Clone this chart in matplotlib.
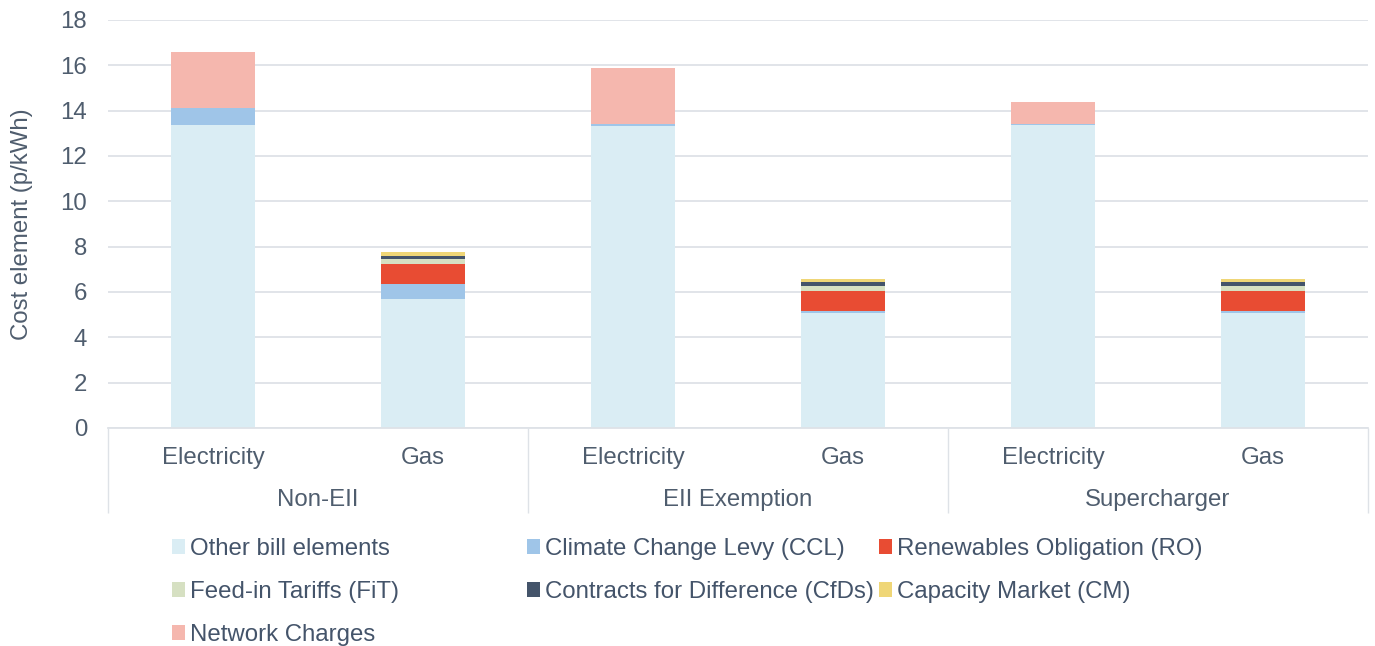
import numpy as np
import matplotlib.pyplot as plt
from matplotlib.patches import Patch

plt.rcParams['font.family'] = ['Liberation Sans', 'DejaVu Sans']

# bill components, p/kWh
fuels = ['Electricity', 'Gas', 'Electricity', 'Gas', 'Electricity', 'Gas']
groups = ['Non-EII', 'EII Exemption', 'Supercharger']

other_bill = [13.35, 5.69, 13.34, 5.09, 13.35, 5.09]
ccl = [0.75, 0.65, 0.07, 0.07, 0.06, 0.07]
ro = [0.0, 0.88, 0.0, 0.87, 0.0, 0.87]
fit = [0.0, 0.25, 0.0, 0.25, 0.0, 0.25]
cfd = [0.0, 0.13, 0.0, 0.15, 0.0, 0.15]
cm = [0.0, 0.16, 0.0, 0.14, 0.0, 0.14]
network = [2.49, 0.0, 2.46, 0.0, 0.97, 0.0]

series = [
    ('Other bill elements', other_bill, '#DAEDF4'),
    ('Climate Change Levy (CCL)', ccl, '#9FC5E8'),
    ('Renewables Obligation (RO)', ro, '#E84C33'),
    ('Feed-in Tariffs (FiT)', fit, '#D6E0C2'),
    ('Contracts for Difference (CfDs)', cfd, '#44546A'),
    ('Capacity Market (CM)', cm, '#EFD677'),
    ('Network Charges', network, '#F5B7AE'),
]

txt = '#4F5D6E'
fs = 17.3
line_col = '#DEE2E7'

fig = plt.figure(figsize=(13.75, 6.46), dpi=100)
ax = fig.add_axes([108 / 1375, 1 - 428 / 646, 1260 / 1375, 408 / 646])

x = np.arange(len(fuels))
bottom = np.zeros(len(fuels))
handles = []
for name, vals, col in series:
    vals = np.array(vals)
    ax.bar(x, vals, 0.4, bottom=bottom, color=col, label=name, zorder=2)
    bottom += vals
    handles.append(Patch(facecolor=col, label=name))

ax.set_xlim(-0.5, 5.5)
ax.set_ylim(0, 18)
ax.set_yticks(np.arange(0, 19, 2))
ax.yaxis.grid(True, color=line_col, lw=1.3, zorder=0)
for s in ['top', 'right', 'left']:
    ax.spines[s].set_visible(False)
ax.spines['bottom'].set_color(line_col)
ax.spines['bottom'].set_linewidth(1.3)
ax.tick_params(axis='y', length=0, labelsize=fs, labelcolor=txt, pad=15)
ax.set_ylabel('Cost element (p/kWh)', fontsize=fs, color=txt, labelpad=20)

ax.set_xticks(x, fuels)
ax.tick_params(axis='x', length=0, labelsize=fs, labelcolor=txt, pad=14)

# separators between groups
sep = ax.secondary_xaxis(0)
sep.set_xticks([-0.5, 1.5, 3.5, 5.5], ['', '', '', ''])
sep.tick_params(length=61, width=1, color=line_col)
sep.spines['bottom'].set_visible(False)

grp = ax.secondary_xaxis(0)
grp.set_xticks([0.5, 2.5, 4.5], groups)
grp.tick_params(length=0, labelsize=fs, labelcolor=txt, pad=44)
grp.spines['bottom'].set_visible(False)

# legend laid out as three columns
cols = [([0, 3, 6], 172), ([1, 4], 527), ([2, 5], 879)]
for idx, xpx in cols:
    leg = fig.legend([handles[i] for i in idx], [handles[i].get_label() for i in idx],
                     loc='upper left', bbox_to_anchor=(xpx / 1375, 1 - 538 / 646),
                     frameon=False, fontsize=fs, labelcolor='#44546A',
                     handlelength=0.55, handleheight=0.55, handletextpad=0.2,
                     labelspacing=0.87, borderpad=0, borderaxespad=0)

fig.savefig('out.png', dpi=100)
